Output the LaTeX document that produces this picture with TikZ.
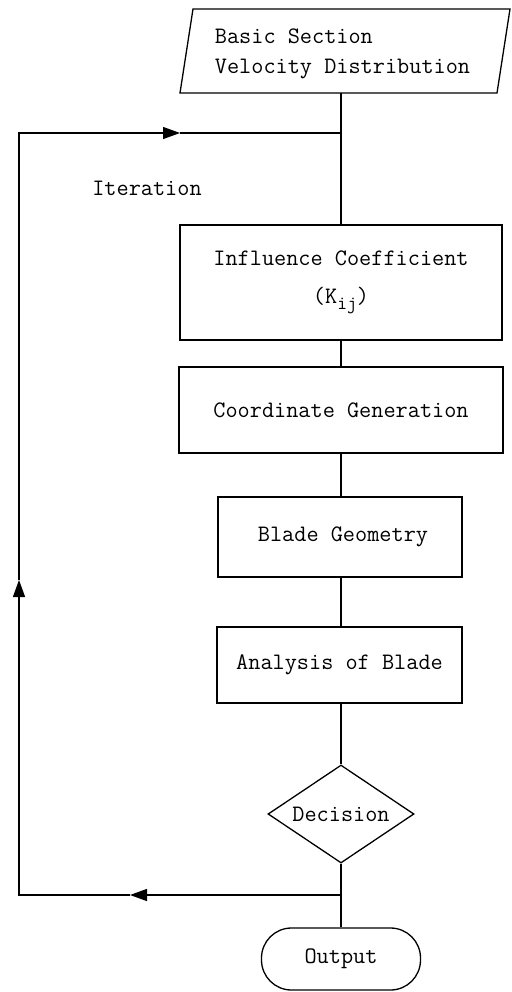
\documentclass[tikz,border=0pt]{standalone}
\usetikzlibrary{shapes.geometric,arrows.meta}
\begin{document}
\begin{tikzpicture}[x=1pt,y=-1pt,
  every node/.style={font=\ttfamily\fontsize{23.6}{30}\selectfont, inner sep=0pt},
  ln/.style={line width=1.3pt},
  boxn/.style={draw, line width=1.3pt, rectangle, align=center},
  arr/.style={ln, -{Triangle[length=17pt,width=12pt]}}]
\useasboundingbox (0,0) rectangle (511,992);
% input parallelogram
\draw[ln] (193,9) -- (510,9) -- (497,93) -- (180,93) -- cycle;
\node[align=left] (para) at (342.5,54) {Basic Section\\Velocity Distribution};
\coordinate (paraB) at (341,93);
% boxes
\node[boxn, minimum width=322pt, minimum height=115pt,
      font=\ttfamily\fontsize{23.6}{38}\selectfont] (infl) at (341,282.5)
      {Influence Coefficient\\(K\raisebox{-6pt}{\fontsize{19}{19}\selectfont ij})};
\node[boxn, minimum width=324pt, minimum height=86pt] (coord) at (341,410) {Coordinate Generation};
\node[boxn, minimum width=244pt, minimum height=80pt] (blade) at (340,537) {\hspace*{6pt}Blade Geometry};
\node[boxn, minimum width=245pt, minimum height=76pt] (anal) at (339.5,665) {Analysis of Blade};
\node[draw, ln, diamond, minimum width=146pt, minimum height=98pt] (dec) at (341,814) {};
\node (decT) at (dec.center) {Decision};
\node[draw, ln, rectangle, rounded corners=30pt, minimum width=159pt, minimum height=62pt] (out) at (341,959) {Output};
\node (iter) at (147,188) {Iteration};
% main line
\draw[ln] (paraB) -- (infl.north);
\draw[ln] (infl.south) -- (coord.north);
\draw[ln] (coord.south) -- (coord.south |- blade.north);
\draw[ln] (blade.south -| coord.south) -- (anal.north -| coord.south);
\draw[ln] (anal.south -| dec.north) -- (dec.north);
\draw[ln] (dec.south) -- (out.north);
% loop
\coordinate (jTop) at (341,133);
\coordinate (jBot) at (341,895);
\coordinate (tl) at (19,133);
\coordinate (bl) at (19,895);
\coordinate (a1) at (130,895);
\coordinate (a2) at (19,580);
\coordinate (a3) at (180,133);
\draw[arr] (jBot) -- (a1);
\draw[arr] (a1) -- (bl) -- (a2);
\draw[arr] (a2) -- (tl) -- (a3);
\draw[ln] (a3) -- (jTop);
\end{tikzpicture}
\end{document}
